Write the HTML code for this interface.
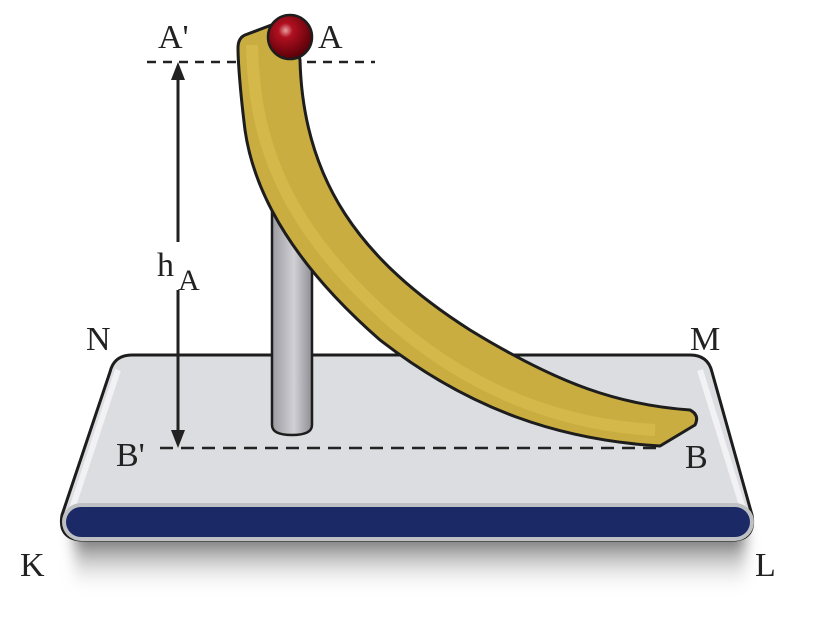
<!DOCTYPE html>
<html><head><meta charset="utf-8"><style>
html,body{margin:0;padding:0;background:#fff;}
svg{display:block;}
text{font-family:"Liberation Serif",serif;fill:#222;}
</style></head><body>
<svg width="816" height="630" viewBox="0 0 816 630" xmlns="http://www.w3.org/2000/svg">
<defs>
<linearGradient id="sh" x1="0" y1="0" x2="0" y2="1">
<stop offset="0" stop-color="#333" stop-opacity="0.9"/>
<stop offset="1" stop-color="#fff" stop-opacity="0"/>
</linearGradient>
<linearGradient id="pole" x1="0" y1="0" x2="1" y2="0">
<stop offset="0" stop-color="#9a9aa0"/><stop offset="0.55" stop-color="#d0d0d5"/><stop offset="1" stop-color="#8e8e94"/>
</linearGradient>
<radialGradient id="ball" cx="0.4" cy="0.35" r="0.65">
<stop offset="0" stop-color="#e8a0a0"/><stop offset="0.25" stop-color="#b01020"/><stop offset="1" stop-color="#5a0008"/>
</radialGradient>
<filter id="blur"><feGaussianBlur stdDeviation="7"/></filter>
</defs>
<!-- shadow -->
<rect x="75" y="530" width="670" height="65" fill="url(#sh)" filter="url(#blur)"/>
<!-- base -->
<path d="M132,355 L690,355 Q708,355 712,372 L752,515 Q756,538 735,540 L80,540 Q58,538 62,515 L110,372 Q114,355 132,355 Z" fill="#dcdde0" stroke="#1d1d1d" stroke-width="3"/>
<path d="M118,370 L70,515" stroke="#f2f2f4" stroke-width="6"/>
<path d="M700,370 L745,515" stroke="#f2f2f4" stroke-width="6"/>
<rect x="62" y="503" width="692" height="38" rx="19" fill="#bfc0c4"/>
<rect x="66" y="507" width="684" height="30" rx="15" fill="#1b2a66"/>
<!-- pole -->
<path d="M272,200 L312,200 L312,425 Q312,435 292,435 Q272,435 272,425 Z" fill="url(#pole)" stroke="#1d1d1d" stroke-width="2.5"/>
<!-- dashed lines -->
<line x1="147" y1="62" x2="375" y2="62" stroke="#222" stroke-width="2.5" stroke-dasharray="9,7"/>
<line x1="160" y1="448" x2="660" y2="448" stroke="#222" stroke-width="2.5" stroke-dasharray="13,8"/>
<!-- slide -->
<path d="M245,35 L290,18 L300,60 C303,180 360,260 470,330 C560,385 620,405 690,410 Q700,415 695,425 L660,446 C560,440 470,410 380,340 C300,270 255,200 245,130 C240,90 238,60 238,48 Q238,38 245,35 Z" fill="#c9ad40" stroke="#1d1d1d" stroke-width="3"/>
<path d="M252,45 C254,150 290,230 390,320 C470,390 560,425 655,430" stroke="#d4b94a" stroke-width="12" fill="none"/>
<!-- ball -->
<circle cx="290" cy="37" r="22" fill="url(#ball)" stroke="#1d1d1d" stroke-width="2.5"/>
<!-- arrow -->
<line x1="178" y1="75" x2="178" y2="242" stroke="#222" stroke-width="3"/>
<line x1="178" y1="290" x2="178" y2="436" stroke="#222" stroke-width="3"/>
<path d="M171,80 L178,62 L185,80 Z" fill="#222"/>
<path d="M171,430 L178,448 L185,430 Z" fill="#222"/>
<!-- labels -->
<text x="158" y="48" font-size="34">A'</text>
<text x="318" y="48" font-size="34">A</text>
<text x="157" y="276" font-size="34">h</text>
<text x="178" y="290" font-size="30">A</text>
<text x="86" y="350" font-size="34">N</text>
<text x="690" y="350" font-size="34">M</text>
<text x="116" y="466" font-size="34">B'</text>
<text x="685" y="468" font-size="34">B</text>
<text x="20" y="576" font-size="34">K</text>
<text x="755" y="576" font-size="34">L</text>
</svg>
</body></html>
